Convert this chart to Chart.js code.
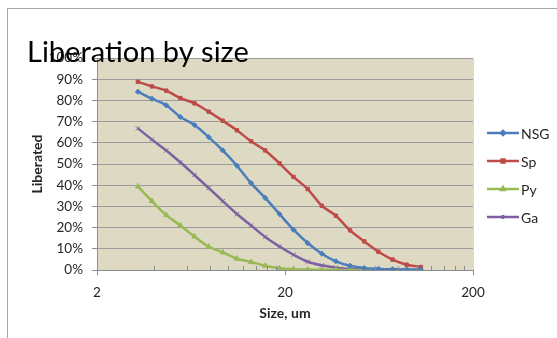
<!DOCTYPE html>
<html>
<head>
<meta charset="utf-8">
<title>Liberation by size</title>
<script src="https://cdn.jsdelivr.net/npm/chart.js@4/dist/chart.umd.min.js"></script>
<style>
  html, body { margin: 0; padding: 0; background: #fff; }
  #wrap { width: 557px; height: 338px; }
</style>
</head>
<body>
<div id="wrap"><canvas id="c" width="557" height="338"></canvas></div>
<script>
// Particle size classes (um)
const sizes = [3.3, 3.92, 4.67, 5.55, 6.6, 7.85, 9.33, 11.1, 13.2, 15.7, 18.7,
               22.2, 26.4, 31.4, 37.3, 44.4, 52.8, 62.8, 74.7, 88.8, 105.6];

// Liberated fraction per mineral (%)
const nsg = [84.1, 80.8, 77.7, 72.2, 68.4, 62.7, 56.4, 49.2, 41.0, 34.0, 26.4,
             19.0, 12.7, 7.7, 4.1, 2.0, 0.9, 0.5, 0.3, 0.2, 0.1];
const sp  = [88.8, 86.6, 84.6, 81.1, 78.6, 74.7, 70.4, 65.9, 60.7, 56.4, 50.3,
             43.9, 38.2, 30.3, 25.6, 18.7, 13.5, 8.6, 4.9, 2.5, 1.4];
const py  = [39.4, 32.5, 25.9, 21.0, 15.8, 11.0, 8.3, 5.3, 3.8, 2.0, 0.8,
             0.4, 0.2, 0.1, 0.1, 0, 0, 0, 0, 0, 0];
const ga  = [66.8, 61.5, 56.4, 50.8, 44.8, 38.7, 32.5, 26.4, 21.0, 15.6, 11.1,
             7.2, 3.9, 2.2, 1.1, 0.5, 0.3, 0.2, 0.1, 0.1, 0];

const seriesNames = ['NSG', 'Sp', 'Py', 'Ga'];
const xMajorTicks = [2, 20, 200];
const xMinorTicks = [4, 6, 8, 10, 12, 14, 16, 18, 40, 60, 80, 100, 120, 140, 160, 180];

const FONT = 'Lato, "Open Sans", "Liberation Sans", sans-serif';
const TEXT = '#262626';

const styles = [
  { color: '#4a7ebb', point: 'rectRot', radius: 2.6 },
  { color: '#be4b48', point: 'rect', radius: 2.4 },
  { color: '#98b954', point: 'triangle', radius: 3 },
  { color: '#7d60a0', point: 'crossRot', radius: 3 }
];

const values = [nsg, sp, py, ga];
const datasets = seriesNames.map((name, i) => ({
  label: name,
  data: sizes.map((s, k) => ({ x: s, y: values[i][k] })),
  borderColor: styles[i].color,
  backgroundColor: styles[i].color,
  borderWidth: 2.5,
  pointStyle: styles[i].point,
  pointRadius: styles[i].radius,
  pointBorderWidth: 1,
  pointBorderColor: styles[i].color,
  pointBackgroundColor: styles[i].color,
  cubicInterpolationMode: 'monotone',
  fill: false
}));

// Frame, plot background, inner minor ticks, titles and legend
const decor = {
  id: 'decor',
  beforeDraw(chart) {
    const { ctx, chartArea: a } = chart;
    ctx.save();
    ctx.fillStyle = '#ffffff';
    ctx.fillRect(0, 0, chart.width, chart.height);
    ctx.strokeStyle = '#a6a6a6';
    ctx.lineWidth = 1;
    ctx.strokeRect(7.5, 8.5, chart.width + 20, chart.height + 20);
    ctx.fillStyle = '#ddd9c3';
    ctx.fillRect(a.left, a.top, a.right - a.left + 1, a.bottom - a.top);
    ctx.restore();
  },
  afterDatasetsDraw(chart) {
    const { ctx, chartArea: a, scales } = chart;
    ctx.save();
    // minor ticks on the size axis, pointing into the plot
    ctx.strokeStyle = '#8c8c8c';
    ctx.lineWidth = 1;
    ctx.beginPath();
    xMinorTicks.forEach(v => {
      const px = Math.round(scales.x.getPixelForValue(v)) + 0.5;
      ctx.moveTo(px, a.bottom);
      ctx.lineTo(px, a.bottom - 4);
    });
    ctx.stroke();
    ctx.restore();
  },
  afterDraw(chart) {
    const { ctx, chartArea: a } = chart;
    ctx.save();
    // axis titles
    ctx.fillStyle = TEXT;
    ctx.font = 'bold 14px ' + FONT;
    ctx.textAlign = 'center';
    ctx.textBaseline = 'middle';
    ctx.fillText('Size, um', (a.left + a.right) / 2, 313);
    ctx.save();
    ctx.translate(37, (a.top + a.bottom) / 2);
    ctx.rotate(-Math.PI / 2);
    ctx.fillText('Liberated', 0, 0);
    ctx.restore();

    // legend
    ctx.font = '14px ' + FONT;
    ctx.textAlign = 'left';
    chart.data.datasets.forEach((ds, i) => {
      const y = 133 + i * 28;
      ctx.strokeStyle = ds.borderColor;
      ctx.lineWidth = 2.5;
      ctx.beginPath();
      ctx.moveTo(487, y);
      ctx.lineTo(519, y);
      ctx.stroke();
      Chart.helpers.drawPoint(ctx, {
        pointStyle: ds.pointStyle, radius: 2, rotation: 0, borderWidth: 1
      }, 503, y);
      ctx.fillStyle = TEXT;
      ctx.fillText(ds.label, 521, y + 1);
    });

    // chart title, overlapping the top of the plot
    ctx.fillStyle = '#000000';
    ctx.font = '29px ' + FONT;
    ctx.textAlign = 'left';
    ctx.textBaseline = 'alphabetic';
    ctx.fillText('Liberation by size', 27, 62);
    ctx.restore();
  }
};

new Chart(document.getElementById('c'), {
  type: 'line',
  data: { datasets },
  options: {
    responsive: false,
    animation: false,
    devicePixelRatio: 1,
    layout: { padding: { top: 58, right: 84, left: 0, bottom: 0 } },
    plugins: {
      legend: { display: false },
      title: { display: false },
      tooltip: { enabled: false }
    },
    scales: {
      x: {
        type: 'logarithmic',
        min: 2,
        max: 200,
        afterBuildTicks(scale) {
          scale.ticks = xMajorTicks.map(v => ({ value: v, major: true }));
        },
        afterFit(scale) { scale.height = 68; },
        ticks: {
          autoSkip: false,
          maxRotation: 0,
          padding: 10,
          color: TEXT,
          font: { family: FONT, size: 13.5 },
          callback: v => String(v)
        },
        grid: {
          drawOnChartArea: false,
          drawTicks: true,
          tickLength: 5,
          color: '#8c8c8c'
        },
        border: { display: true, color: '#8c8c8c', width: 1 }
      },
      y: {
        min: 0,
        max: 100,
        afterFit(scale) { scale.width = 97; },
        ticks: {
          stepSize: 10,
          padding: 9,
          color: TEXT,
          font: { family: FONT, size: 13.5 },
          callback: v => v + '%'
        },
        grid: {
          color: '#9c9c9c',
          lineWidth: 1,
          drawTicks: true,
          tickLength: 5,
          tickColor: '#8c8c8c'
        },
        border: { display: true, color: '#8c8c8c', width: 1 }
      }
    }
  },
  plugins: [decor]
});
</script>
</body>
</html>
